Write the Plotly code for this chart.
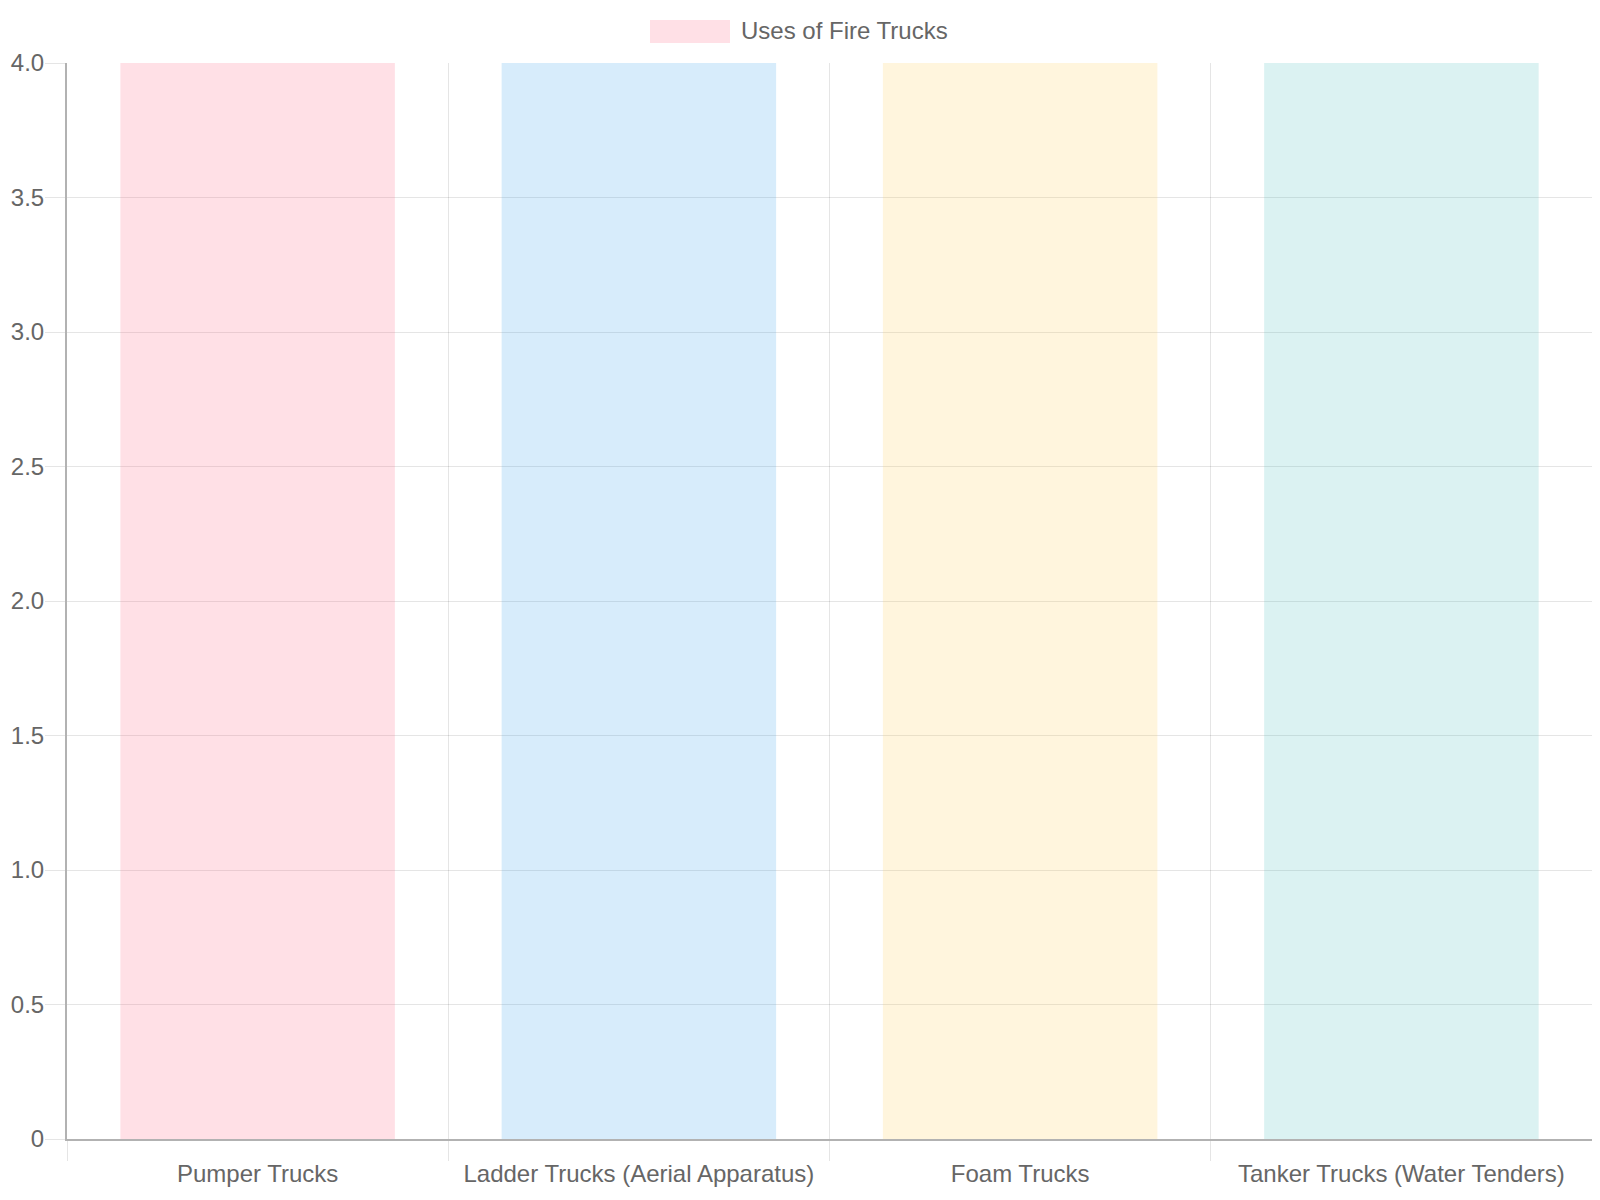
#!/usr/bin/env python
# -*- coding: utf-8 -*-

"""
Bar chart of fire truck types (all equal usage value)
"""

import plotly.graph_objects as go

# data
categories = ['Pumper Trucks', 'Ladder Trucks (Aerial Apparatus)',
              'Foam Trucks', 'Tanker Trucks (Water Tenders)']
values = [4, 4, 4, 4]
series_name = 'Uses of Fire Trucks'
y_tickvals = [0, 0.5, 1.0, 1.5, 2.0, 2.5, 3.0, 3.5, 4.0]
y_ticktext = ['0', '0.5', '1.0', '1.5', '2.0', '2.5', '3.0', '3.5', '4.0']

bar_colors = ['rgba(255,99,132,0.2)', 'rgba(54,162,235,0.2)',
              'rgba(255,206,86,0.2)', 'rgba(75,192,192,0.2)']

# la page html ajoute une marge de 8px autour du graphique
W, H = 1584, 1184
ML, MR, MT, MB = 59, 0, 55, 53
FONT = 'Liberation Sans, Arial, sans-serif'
FS = 24
GRID = 'rgba(0,0,0,0.1)'
AXIS = 'rgba(0,0,0,0.3)'


def px_to_paper_x(px):
    return (px - 8 - ML) / (W - ML - MR)


def px_to_paper_y(py):
    return 1 - (py - 8 - MT) / (H - MT - MB)


fig = go.Figure()
fig.add_trace(go.Bar(x=categories, y=values, name=series_name,
                     marker=dict(color=bar_colors, line=dict(width=0)),
                     showlegend=False))

# legende façon chart.js : boite + texte
fig.add_shape(type='rect', xref='paper', yref='paper',
              x0=px_to_paper_x(650), x1=px_to_paper_x(730),
              y0=px_to_paper_y(43), y1=px_to_paper_y(20),
              fillcolor=bar_colors[0], line=dict(width=0))
fig.add_annotation(text=series_name, xref='paper', yref='paper',
                   x=px_to_paper_x(739), y=px_to_paper_y(31),
                   xanchor='left', yanchor='middle', showarrow=False,
                   font=dict(family=FONT, size=FS, color='#666666'))

fig.update_layout(
    width=W, height=H,
    margin=dict(l=ML, r=MR, t=MT, b=MB),
    paper_bgcolor='white', plot_bgcolor='white',
    font=dict(family=FONT, size=FS, color='#666666'),
    bargap=0.28,
    xaxis=dict(type='category', tickson='boundaries', showgrid=True,
               gridcolor=GRID, gridwidth=1, ticks='outside', ticklen=20,
               tickcolor=GRID, showline=True, linecolor=AXIS, linewidth=2,
               ticklabelstandoff=12,
               tickfont=dict(size=FS, color='#666666')),
    yaxis=dict(range=[0, 4], tickvals=y_tickvals, ticktext=y_ticktext,
               showgrid=True, gridcolor=GRID, gridwidth=1, zeroline=False,
               ticks='outside', ticklen=20, tickcolor=GRID,
               showline=True, linecolor=AXIS, linewidth=2,
               ticklabelstandoff=-4,
               tickfont=dict(size=FS, color='#666666')),
)

fig.write_html('out.html')
